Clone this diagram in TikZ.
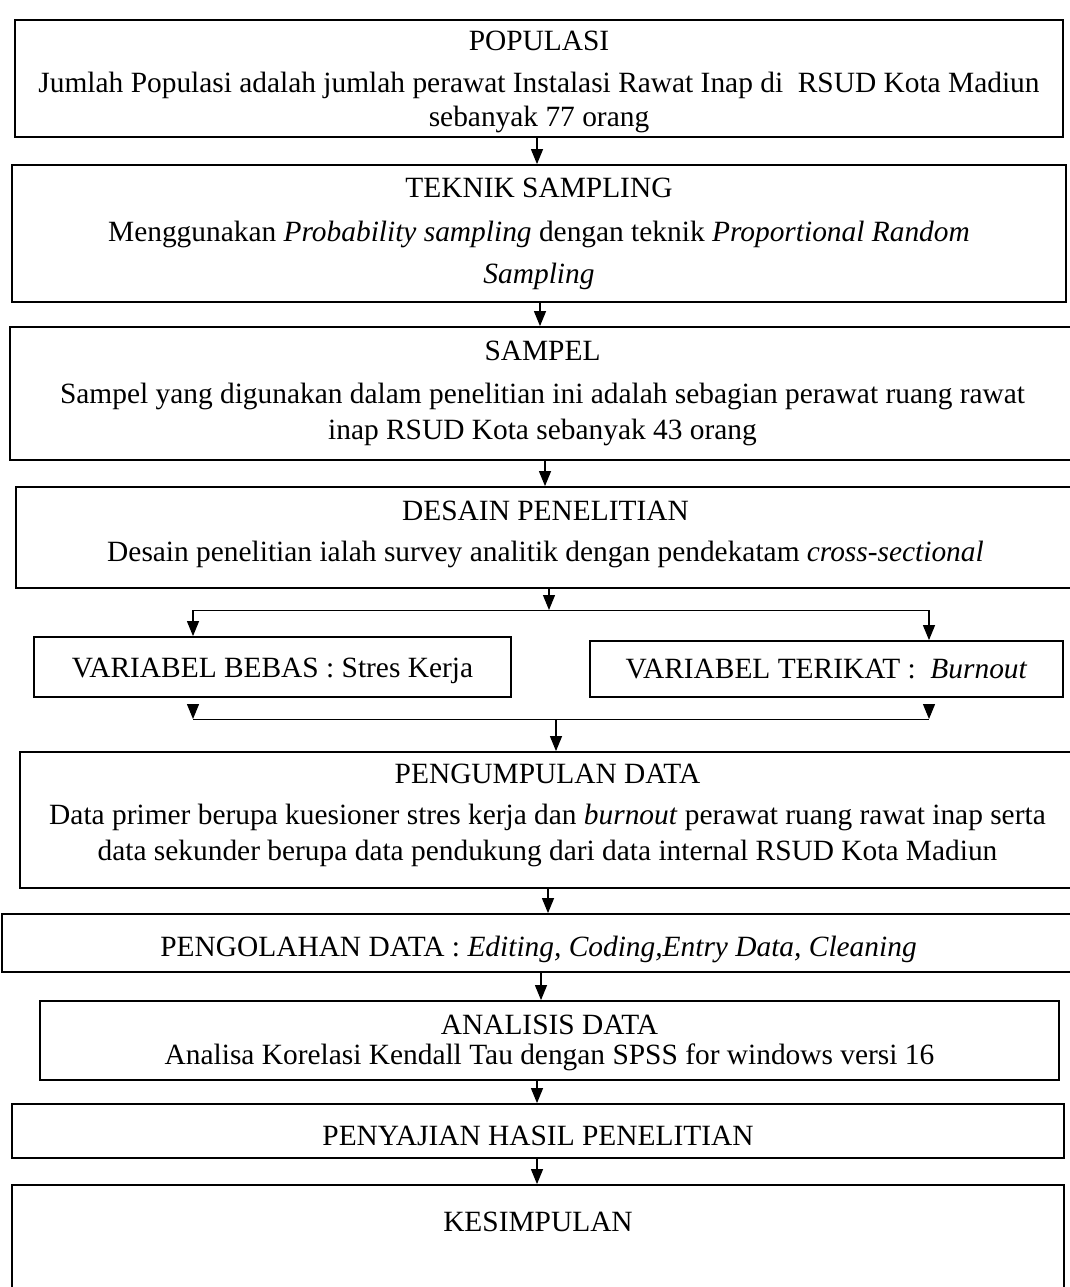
\documentclass[tikz,border=0pt]{standalone}
\usepackage{fontspec}
\setmainfont{Liberation Serif}
\usetikzlibrary{arrows.meta}
\tikzset{
  box/.style={draw=black, line width=1.8pt, rectangle, inner sep=0pt, align=center,
    font=\fontsize{29.4}{35.5}\selectfont},
  conn/.style={line width=1.2pt},
  arr/.style={conn, -{Triangle[length=15pt,width=12pt]}},
}
\begin{document}
\begin{tikzpicture}[x=1pt,y=-1pt]
\useasboundingbox (0,0) rectangle (1069,1287);
% boxes
\node[box, minimum width=1048pt, minimum height=117pt, text depth=-1.6pt] (pop) at (539,78.5)
  {POPULASI\\[6.5pt]Jumlah Populasi adalah jumlah perawat Instalasi Rawat Inap di\ \ RSUD Kota Madiun\\[-1.5pt]sebanyak 77 orang};
\node[box, minimum width=1054pt, minimum height=137pt] (tek) at (539,233.5)
  {TEKNIK SAMPLING\\[8.5pt]Menggunakan \textit{Probability sampling} dengan teknik \textit{Proportional Random}\\[6.5pt]\textit{Sampling}};
\node[box, minimum width=1065pt, minimum height=133pt] (sam) at (542.5,393.5)
  {SAMPEL\\[7.5pt]Sampel yang digunakan dalam penelitian ini adalah sebagian perawat ruang rawat\\inap RSUD Kota sebanyak 43 orang};
\node[box, minimum width=1059pt, minimum height=101pt, text depth=12.4pt] (des) at (545.5,537.5)
  {DESAIN PENELITIAN\\[5.5pt]Desain penelitian ialah survey analitik dengan pendekatam \textit{cross-sectional}};
\node[box, minimum width=477pt, minimum height=60pt, text height=27.4pt, text depth=6.4pt] (vb) at (272.5,667)
  {VARIABEL BEBAS : Stres Kerja};
\node[box, minimum width=473pt, minimum height=56pt] (vt) at (826.5,669)
  {VARIABEL TERIKAT :\ \ \textit{Burnout}};
\node[box, minimum width=1055pt, minimum height=136pt, text depth=15.4pt] (pen) at (547.5,820)
  {PENGUMPULAN DATA\\[5.5pt]Data primer berupa kuesioner stres kerja dan \textit{burnout} perawat ruang rawat inap serta\\[0.5pt]data sekunder berupa data pendukung dari data internal RSUD Kota Madiun};
\node[box, minimum width=1073pt, minimum height=58pt, text height=32.4pt, text depth=6.4pt] (olah) at (538.5,943)
  {PENGOLAHAN DATA : \textit{Editing, Coding,Entry Data, Cleaning}};
\node[box, minimum width=1019pt, minimum height=79pt, text depth=1.4pt] (ana) at (549.5,1040.5)
  {ANALISIS DATA\\[-5.5pt]Analisa Korelasi Kendall Tau dengan SPSS for windows versi 16};
\node[box, minimum width=1052pt, minimum height=54pt, text height=29.5pt, text depth=0pt] (saji) at (538,1131)
  {PENYAJIAN HASIL PENELITIAN};
\node[box, minimum width=1052pt, minimum height=115pt, text height=20pt, text depth=43pt] (kes) at (538,1242.5)
  {KESIMPULAN};
% connector columns
\coordinate (c1) at (537,0);
\coordinate (c2) at (540,0);
\coordinate (c3) at (545,0);
\coordinate (c4) at (549,0);
\coordinate (split) at (549,610);
\coordinate (bl) at (193,610);
\coordinate (br) at (929,610);
\coordinate (jl) at (193,719);
\coordinate (jr) at (929,719);
\coordinate (join) at (556,719);
\coordinate (c6) at (548,0);
\coordinate (c7) at (541,0);
\coordinate (c8) at (537,0);
% arrows
\draw[arr] (c1 |- pop.south) -- (c1 |- tek.north);
\draw[arr] (c2 |- tek.south) -- (c2 |- sam.north);
\draw[arr] (c3 |- sam.south) -- (c3 |- des.north);
\draw[arr] (c4 |- des.south) -- (split);
\draw[conn, line width=1pt] (bl) -- (br);
\draw[arr] (bl) -- (bl |- vb.north);
\draw[arr] (br) -- (br |- vt.north);
\draw[arr] ([yshift=-12pt]bl |- vb.south) -- (jl);
\draw[arr] ([yshift=-12pt]br |- vt.south) -- (jr);
\draw[conn, line width=1pt] (jl) -- (jr);
\draw[arr] (join) -- (join |- pen.north);
\draw[arr] (c6 |- pen.south) -- (c6 |- olah.north);
\draw[arr] (c7 |- olah.south) -- (c7 |- ana.north);
\draw[arr] (c8 |- ana.south) -- (c8 |- saji.north);
\draw[arr] (c8 |- saji.south) -- (c8 |- kes.north);
\end{tikzpicture}
\end{document}
